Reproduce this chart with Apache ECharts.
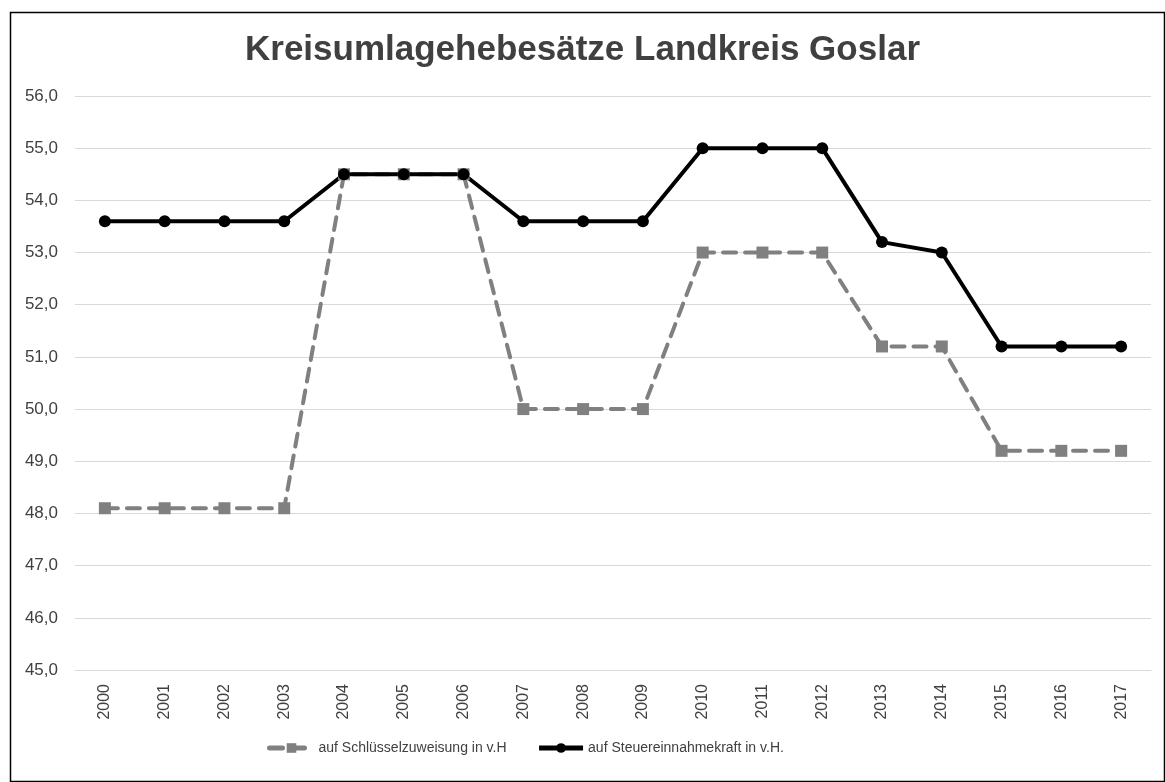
<!DOCTYPE html>
<html>
<head>
<meta charset="utf-8">
<script src="https://cdn.jsdelivr.net/npm/echarts@6/dist/echarts.min.js"></script>
<style>
  html, body { margin: 0; padding: 0; background: #fff; }
  #chart { width: 1165px; height: 782px; }
</style>
</head>
<body>
<div id="chart"></div>
<script>
var years = ['2000', '2001', '2002', '2003', '2004', '2005', '2006', '2007', '2008',
  '2009', '2010', '2011', '2012', '2013', '2014', '2015', '2016', '2017'];
var schluessel = [48.1, 48.1, 48.1, 48.1, 54.5, 54.5, 54.5, 50.0, 50.0,
  50.0, 53.0, 53.0, 53.0, 51.2, 51.2, 49.2, 49.2, 49.2];
var steuer = [53.6, 53.6, 53.6, 53.6, 54.5, 54.5, 54.5, 53.6, 53.6,
  53.6, 55.0, 55.0, 55.0, 53.2, 53.0, 51.2, 51.2, 51.2];

var font = '"Liberation Sans", Arial, sans-serif';

var option = {
  animation: false,
  backgroundColor: '#fff',
  graphic: [{
    type: 'rect',
    left: 8, top: 10,
    shape: { width: 1154, height: 769 },
    style: { fill: 'none', stroke: '#000', lineWidth: 1.5 },
    silent: true
  }],
  title: {
    text: 'Kreisumlagehebesätze Landkreis Goslar',
    left: 'center',
    top: 28,
    textStyle: { fontFamily: font, fontSize: 35, fontWeight: 'bold', color: '#404040' }
  },
  legend: {
    bottom: 22,
    left: 262,
    itemGap: 30,
    itemWidth: 44,
    itemHeight: 12,
    textStyle: { fontFamily: font, fontSize: 14, color: '#404040' },
    data: [
      { name: 'auf Schlüsselzuweisung in v.H', lineStyle: { width: 5 } },
      { name: 'auf Steuereinnahmekraft in v.H.', lineStyle: { width: 5 } }
    ]
  },
  grid: { left: 75, right: 14, top: 96, bottom: 112 },
  xAxis: {
    type: 'category',
    data: years,
    boundaryGap: true,
    axisLine: { show: true, lineStyle: { color: '#d9d9d9', width: 1 } },
    axisTick: { show: false },
    axisLabel: { rotate: 90, margin: 14, fontFamily: font, fontSize: 16, color: '#404040' }
  },
  yAxis: {
    type: 'value',
    min: 45,
    max: 56,
    interval: 1,
    axisLine: { show: false },
    axisTick: { show: false },
    splitLine: { lineStyle: { color: '#d9d9d9', width: 1 } },
    axisLabel: {
      margin: 17,
      fontFamily: font, fontSize: 17, color: '#404040',
      formatter: function (v) { return v.toFixed(1).replace('.', ','); }
    }
  },
  series: [
    {
      name: 'auf Schlüsselzuweisung in v.H',
      type: 'line',
      data: schluessel,
      symbol: 'rect',
      symbolSize: 12,
      color: '#808080',
      lineStyle: { color: '#808080', width: 4, type: [13, 9], cap: 'round' },
      itemStyle: { color: '#808080' }
    },
    {
      name: 'auf Steuereinnahmekraft in v.H.',
      type: 'line',
      data: steuer,
      symbol: 'circle',
      symbolSize: 12,
      color: '#000',
      lineStyle: { color: '#000', width: 4 },
      itemStyle: { color: '#000' }
    }
  ]
};

var myChart = echarts.init(document.getElementById('chart'));
myChart.setOption(option);
</script>
</body>
</html>
